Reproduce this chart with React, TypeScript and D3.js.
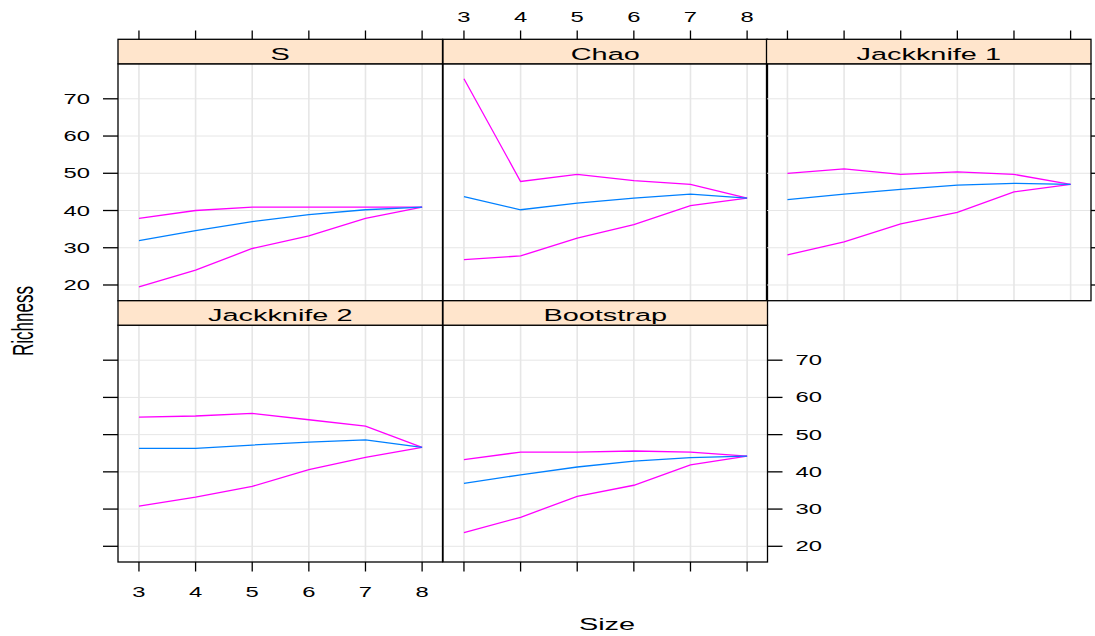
import React from "react";
import * as d3 from "d3";

const sizes = [3, 4, 5, 6, 7, 8];
const panelNames = ["S", "Chao", "Jackknife 1", "Jackknife 2", "Bootstrap"];
const yTicks = [20, 30, 40, 50, 60, 70];

const sMean = [31.9, 34.6, 37.0, 38.9, 40.2, 40.9];
const sLower = [19.5, 24.0, 29.8, 33.2, 37.9, 40.9];
const sUpper = [37.9, 40.0, 40.9, 40.9, 40.9, 40.9];

const chaoMean = [43.7, 40.2, 42.0, 43.3, 44.4, 43.3];
const chaoLower = [26.8, 27.8, 32.6, 36.2, 41.3, 43.3];
const chaoUpper = [75.4, 47.8, 49.7, 48.0, 47.0, 43.3];

const jack1Mean = [42.9, 44.4, 45.7, 46.8, 47.3, 47.0];
const jack1Lower = [28.1, 31.6, 36.4, 39.5, 45.0, 47.0];
const jack1Upper = [50.0, 51.2, 49.7, 50.4, 49.7, 47.0];

const jack2Mean = [46.3, 46.3, 47.2, 48.0, 48.6, 46.6];
const jack2Lower = [30.8, 33.2, 36.1, 40.6, 43.9, 46.6];
const jack2Upper = [54.7, 55.0, 55.7, 54.0, 52.3, 46.6];

const bootMean = [36.9, 39.2, 41.3, 42.9, 43.8, 44.2];
const bootLower = [23.7, 27.8, 33.4, 36.4, 41.9, 44.2];
const bootUpper = [43.3, 45.3, 45.3, 45.6, 45.3, 44.2];

const panelSeries = [
  [sMean, sLower, sUpper],
  [chaoMean, chaoLower, chaoUpper],
  [jack1Mean, jack1Lower, jack1Upper],
  [jack2Mean, jack2Lower, jack2Upper],
  [bootMean, bootLower, bootUpper],
];

const W = 1095, H = 636;
const colLefts = [118, 443, 766.5];
const panelW = 324.5;
const rowTops = [39.3, 300.7];
const stripH = 24.5;
const rowBottoms = [300.7, 562];
const SX = 1.7;
const FONT = "'Liberation Sans', Arial, Helvetica, sans-serif";
const MEAN_COL = "#0080ff";
const BAND_COL = "#ff00ff";
const STRIP_BG = "#ffe5cc";
const GRID = "#e6e6e6";

const positions = [
  [0, 0], [0, 1], [0, 2], [1, 0], [1, 1],
];

function T({ x, y, size, anchor = "middle", children, rotate = 0 }: any) {
  return (
    <text
      transform={`translate(${x},${y}) scale(${SX},1)${rotate ? ` rotate(${rotate})` : ""}`}
      fontFamily={FONT}
      fontSize={size}
      textAnchor={anchor}
      fill="#000"
    >
      {children}
    </text>
  );
}

export default function App() {
  const panels = positions.map(([r, c], i) => {
    const left = colLefts[c];
    const right = left + panelW;
    const top = rowTops[r] + stripH;
    const bottom = rowBottoms[r];
    const x = d3.scaleLinear().domain([2.63, 8.36]).range([left, right]);
    const y = d3.scaleLinear().domain([15.78, 79.4]).range([bottom, top]);
    const line = d3.line<number>().x((_, j) => x(sizes[j])).y((v) => y(v));
    return { r, c, i, left, right, top, bottom, x, y, line };
  });

  const els: any[] = [];
  panels.forEach((p) => {
    const series = panelSeries[p.i];
    els.push(
      <g key={"p" + p.i}>
        {sizes.map((s) => (
          <line key={"gv" + s} x1={p.x(s)} x2={p.x(s)} y1={p.top} y2={p.bottom} stroke={GRID} strokeWidth={1.6} />
        ))}
        {yTicks.map((t) => (
          <line key={"gh" + t} x1={p.left} x2={p.right} y1={p.y(t)} y2={p.y(t)} stroke={GRID} strokeWidth={1} />
        ))}
        <path d={p.line(series[1]) || ""} fill="none" stroke={BAND_COL} strokeWidth={1.3} />
        <path d={p.line(series[2]) || ""} fill="none" stroke={BAND_COL} strokeWidth={1.3} />
        <path d={p.line(series[0]) || ""} fill="none" stroke={MEAN_COL} strokeWidth={1.3} />
        <rect x={p.left} y={p.top} width={panelW} height={p.bottom - p.top} fill="none" stroke="#000" strokeWidth={1.3} />
        <rect x={p.left} y={rowTops[p.r]} width={panelW} height={stripH} fill={STRIP_BG} stroke="#000" strokeWidth={1.3} />
        <T x={(p.left + p.right) / 2} y={rowTops[p.r] + stripH - 4} size={17}>{panelNames[p.i]}</T>
      </g>
    );
  });

  // Top axis ticks for all columns (top row)
  const topRow = panels.filter((p) => p.r === 0);
  topRow.forEach((p) => {
    sizes.forEach((s) => {
      els.push(<line key={`tt${p.c}${s}`} x1={p.x(s)} x2={p.x(s)} y1={30.5} y2={rowTops[0]} stroke="#000" strokeWidth={1.3} />);
      if (p.c === 1) els.push(<T key={`tl${s}`} x={p.x(s)} y={21.5} size={14}>{String(s)}</T>);
    });
  });
  // Bottom axis ticks for bottom row
  panels.filter((p) => p.r === 1).forEach((p) => {
    sizes.forEach((s) => {
      els.push(<line key={`bt${p.c}${s}`} x1={p.x(s)} x2={p.x(s)} y1={rowBottoms[1]} y2={571.5} stroke="#000" strokeWidth={1.3} />);
      if (p.c === 0) els.push(<T key={`bl${s}`} x={p.x(s)} y={597} size={14}>{String(s)}</T>);
    });
  });
  // Left axis
  panels.filter((p) => p.c === 0).forEach((p) => {
    yTicks.forEach((t) => {
      els.push(<line key={`lt${p.r}${t}`} x1={103} x2={p.left} y1={p.y(t)} y2={p.y(t)} stroke="#000" strokeWidth={1.3} />);
      if (p.r === 0) els.push(<T key={`ll${t}`} x={90} y={p.y(t) + 5} size={14} anchor="end">{String(t)}</T>);
    });
  });
  // Right axis: Jackknife 1 (ticks), Bootstrap (ticks + labels)
  [panels[2], panels[4]].forEach((p) => {
    yTicks.forEach((t) => {
      els.push(<line key={`rt${p.i}${t}`} x1={p.right} x2={p.right + 15} y1={p.y(t)} y2={p.y(t)} stroke="#000" strokeWidth={1.3} />);
      if (p.i === 4) els.push(<T key={`rl${t}`} x={p.right + 28} y={p.y(t) + 5} size={14} anchor="start">{String(t)}</T>);
    });
  });

  return (
    <svg width={W} height={H} style={{ position: "absolute", left: 0, top: 0, background: "#fff" }}>
      <rect x={0} y={0} width={W} height={H} fill="#fff" />
      {els}
      <T x={607} y={630} size={17}>Size</T>
      <T x={33} y={321} size={17} rotate={-90}>Richness</T>
    </svg>
  );
}
